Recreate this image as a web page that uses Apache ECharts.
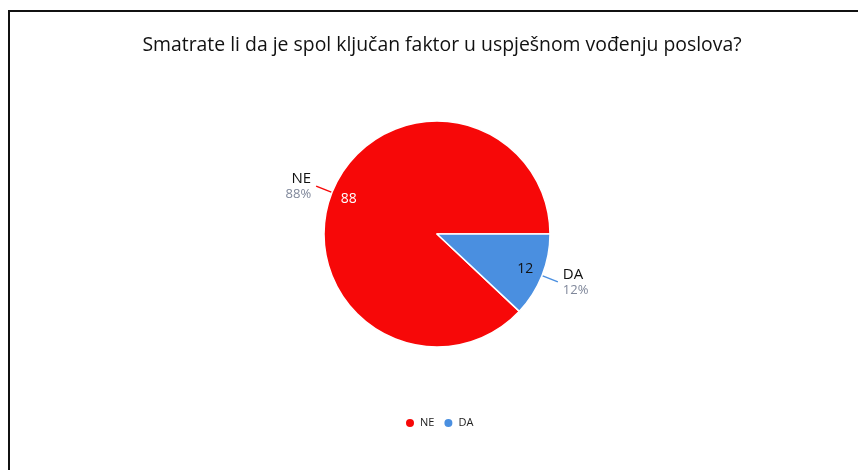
<!DOCTYPE html>
<html><head><meta charset="utf-8">
<script src="https://cdn.jsdelivr.net/npm/echarts@6/dist/echarts.min.js"></script>
<style>
html,body{margin:0;padding:0;background:#fff;}
#frame{position:absolute;left:8px;top:10px;width:850px;height:460px;border-left:2.5px solid #111;border-top:2.5px solid #111;}
#chart{position:absolute;left:0;top:0;width:858px;height:470px;}
</style></head>
<body><div id="frame"></div><div id="chart"></div>
<script>
const titleText = 'Smatrate li da je spol ključan faktor u uspješnom vođenju poslova?';
const categories = ['NE', 'DA'];
const values = [88, 12];
const colors = ['#f70808', '#4a8fe0'];
const innerLabelColors = ['#ffffff', '#111111'];

const data = categories.map((c, i) => ({ name: c, value: values[i], itemStyle: { color: colors[i] } }));
const innerData = categories.map((c, i) => ({
  name: c, value: values[i],
  label: { color: innerLabelColors[i] }
}));

const chart = echarts.init(document.getElementById('chart'));
chart.setOption({
  animation: false,
  title: {
    text: titleText, left: 437, top: 31, textAlign: 'center',
    textStyle: { fontFamily: 'Open Sans', fontSize: 19.4, fontWeight: 'normal', color: '#111' }
  },
  legend: {
    data: categories, bottom: 41, left: 404, icon: 'circle',
    itemWidth: 10, itemHeight: 10, itemGap: 8, padding: 0,
    textStyle: { fontSize: 11, color: '#222', fontFamily: 'Open Sans' }
  },
  series: [
    {
      type: 'pie', center: [437, 234], radius: [0, 113],
      startAngle: 0, clockwise: false,
      data: data,
      itemStyle: { borderColor: '#fff', borderWidth: 1.5 },
      label: {
        position: 'outside',
        formatter: '{n|{b}}\n{p|{d}%}',
        rich: {
          n: { fontSize: 15, color: '#111', fontFamily: 'Open Sans', lineHeight: 17 },
          p: { fontSize: 13, color: '#7f879a', fontFamily: 'Open Sans', lineHeight: 15 }
        }
      },
      labelLine: { show: true, length: 17, length2: 0, lineStyle: { width: 1.5 } },
      emphasis: { disabled: true }
    },
    {
      type: 'pie', center: [437, 234], radius: [71, 113],
      startAngle: 0, clockwise: false, silent: true,
      data: innerData,
      itemStyle: { color: 'rgba(0,0,0,0)' },
      label: { position: 'inside', formatter: '{c}', fontSize: 14, fontFamily: 'Open Sans' },
      labelLine: { show: false },
      legendHoverLink: false,
      emphasis: { disabled: true }
    }
  ]
});
</script></body></html>
